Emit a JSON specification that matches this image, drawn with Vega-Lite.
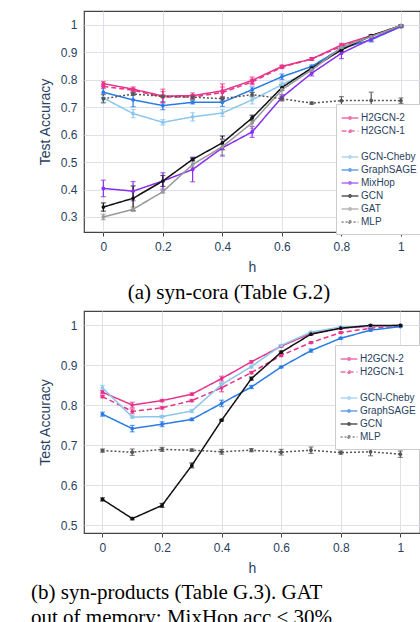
{
  "$schema": "https://vega.github.io/schema/vega-lite/v6.json",
  "padding": {"left": 30, "top": 10, "right": 0, "bottom": 0},
  "background": "white",
  "config": {
    "font": "Liberation Sans",
    "view": {"stroke": "#444444", "strokeWidth": 1.2},
    "axis": {
      "labelFont": "Liberation Sans", "labelFontSize": 12, "labelColor": "#2a3f5f",
      "titleFont": "Liberation Sans", "titleFontSize": 14, "titleFontWeight": "normal", "titleColor": "#2a3f5f",
      "gridColor": "#dde2ea", "domain": false, "tickColor": "#444444"
    },
    "axisX": {"tickSize": 4, "labelPadding": 5, "titlePadding": 8},
    "axisY": {"ticks": false, "labelPadding": 7, "titlePadding": 8},
    "legend": {
      "title": null, "orient": "none", "fillColor": "white", "strokeColor": "#cccccc", "padding": 7,
      "labelFont": "Liberation Sans", "labelFontSize": 10, "labelColor": "#2a3f5f",
      "symbolType": "M-1.4,0H1.4M-0.2,0A0.2,0.2,0,1,0,0.2,0A0.2,0.2,0,1,0,-0.2,0", "symbolSize": 144, "symbolStrokeWidth": 1.5,
      "rowPadding": 1, "labelOffset": 4
    },
    "title": {"font": "Liberation Serif", "fontSize": 21, "fontWeight": "normal", "color": "#000000", "orient": "bottom", "lineHeight": 25},
    "concat": {"spacing": 6}
  },
  "datasets": {
    "cora": [
      {"h": 0, "m": "H2GCN-2", "acc": 0.786, "err": 0.008}, {"h": 0.1, "m": "H2GCN-2", "acc": 0.766, "err": 0.008},
      {"h": 0.2, "m": "H2GCN-2", "acc": 0.741, "err": 0.025}, {"h": 0.3, "m": "H2GCN-2", "acc": 0.742, "err": 0.01},
      {"h": 0.4, "m": "H2GCN-2", "acc": 0.76, "err": 0.025}, {"h": 0.5, "m": "H2GCN-2", "acc": 0.798, "err": 0.012},
      {"h": 0.6, "m": "H2GCN-2", "acc": 0.849, "err": 0.005}, {"h": 0.7, "m": "H2GCN-2", "acc": 0.876, "err": 0.005},
      {"h": 0.8, "m": "H2GCN-2", "acc": 0.927, "err": 0.006}, {"h": 0.9, "m": "H2GCN-2", "acc": 0.961, "err": 0.004},
      {"h": 1, "m": "H2GCN-2", "acc": 0.995, "err": 0.003},
      {"h": 0, "m": "H2GCN-1", "acc": 0.776, "err": 0.008}, {"h": 0.1, "m": "H2GCN-1", "acc": 0.762, "err": 0.007},
      {"h": 0.2, "m": "H2GCN-1", "acc": 0.737, "err": 0.02}, {"h": 0.3, "m": "H2GCN-1", "acc": 0.737, "err": 0.008},
      {"h": 0.4, "m": "H2GCN-1", "acc": 0.754, "err": 0.02}, {"h": 0.5, "m": "H2GCN-1", "acc": 0.792, "err": 0.01},
      {"h": 0.6, "m": "H2GCN-1", "acc": 0.846, "err": 0.005}, {"h": 0.7, "m": "H2GCN-1", "acc": 0.876, "err": 0.005},
      {"h": 0.8, "m": "H2GCN-1", "acc": 0.922, "err": 0.006}, {"h": 0.9, "m": "H2GCN-1", "acc": 0.96, "err": 0.004},
      {"h": 1, "m": "H2GCN-1", "acc": 0.996, "err": 0.003},
      {"h": 0, "m": "GCN-Cheby", "acc": 0.734, "err": 0.015}, {"h": 0.1, "m": "GCN-Cheby", "acc": 0.677, "err": 0.015},
      {"h": 0.2, "m": "GCN-Cheby", "acc": 0.645, "err": 0.01}, {"h": 0.3, "m": "GCN-Cheby", "acc": 0.665, "err": 0.015},
      {"h": 0.4, "m": "GCN-Cheby", "acc": 0.679, "err": 0.012}, {"h": 0.5, "m": "GCN-Cheby", "acc": 0.727, "err": 0.015},
      {"h": 0.6, "m": "GCN-Cheby", "acc": 0.782, "err": 0.01}, {"h": 0.7, "m": "GCN-Cheby", "acc": 0.836, "err": 0.008},
      {"h": 0.8, "m": "GCN-Cheby", "acc": 0.915, "err": 0.005}, {"h": 0.9, "m": "GCN-Cheby", "acc": 0.958, "err": 0.004},
      {"h": 1, "m": "GCN-Cheby", "acc": 0.998, "err": 0.003},
      {"h": 0, "m": "GraphSAGE", "acc": 0.755, "err": 0.02}, {"h": 0.1, "m": "GraphSAGE", "acc": 0.727, "err": 0.025},
      {"h": 0.2, "m": "GraphSAGE", "acc": 0.706, "err": 0.015}, {"h": 0.3, "m": "GraphSAGE", "acc": 0.718, "err": 0.006},
      {"h": 0.4, "m": "GraphSAGE", "acc": 0.718, "err": 0.015}, {"h": 0.5, "m": "GraphSAGE", "acc": 0.764, "err": 0.01},
      {"h": 0.6, "m": "GraphSAGE", "acc": 0.811, "err": 0.01}, {"h": 0.7, "m": "GraphSAGE", "acc": 0.849, "err": 0.005},
      {"h": 0.8, "m": "GraphSAGE", "acc": 0.915, "err": 0.005}, {"h": 0.9, "m": "GraphSAGE", "acc": 0.946, "err": 0.008},
      {"h": 1, "m": "GraphSAGE", "acc": 0.994, "err": 0.003},
      {"h": 0, "m": "MixHop", "acc": 0.404, "err": 0.03}, {"h": 0.1, "m": "MixHop", "acc": 0.394, "err": 0.035},
      {"h": 0.2, "m": "MixHop", "acc": 0.431, "err": 0.03}, {"h": 0.3, "m": "MixHop", "acc": 0.473, "err": 0.045},
      {"h": 0.4, "m": "MixHop", "acc": 0.552, "err": 0.03}, {"h": 0.5, "m": "MixHop", "acc": 0.61, "err": 0.02},
      {"h": 0.6, "m": "MixHop", "acc": 0.736, "err": 0.01}, {"h": 0.7, "m": "MixHop", "acc": 0.824, "err": 0.01},
      {"h": 0.8, "m": "MixHop", "acc": 0.897, "err": 0.02}, {"h": 0.9, "m": "MixHop", "acc": 0.949, "err": 0.008},
      {"h": 1, "m": "MixHop", "acc": 0.995, "err": 0.004},
      {"h": 0, "m": "GCN", "acc": 0.336, "err": 0.015}, {"h": 0.1, "m": "GCN", "acc": 0.368, "err": 0.045},
      {"h": 0.2, "m": "GCN", "acc": 0.431, "err": 0.02}, {"h": 0.3, "m": "GCN", "acc": 0.51, "err": 0.005},
      {"h": 0.4, "m": "GCN", "acc": 0.57, "err": 0.025}, {"h": 0.5, "m": "GCN", "acc": 0.661, "err": 0.01},
      {"h": 0.6, "m": "GCN", "acc": 0.772, "err": 0.01}, {"h": 0.7, "m": "GCN", "acc": 0.843, "err": 0.005},
      {"h": 0.8, "m": "GCN", "acc": 0.909, "err": 0.005}, {"h": 0.9, "m": "GCN", "acc": 0.961, "err": 0.003},
      {"h": 1, "m": "GCN", "acc": 0.998, "err": 0.002},
      {"h": 0, "m": "GAT", "acc": 0.3, "err": 0.01}, {"h": 0.1, "m": "GAT", "acc": 0.328, "err": 0.008},
      {"h": 0.2, "m": "GAT", "acc": 0.392, "err": 0.005}, {"h": 0.3, "m": "GAT", "acc": 0.491, "err": 0.01},
      {"h": 0.4, "m": "GAT", "acc": 0.556, "err": 0.03}, {"h": 0.5, "m": "GAT", "acc": 0.643, "err": 0.02},
      {"h": 0.6, "m": "GAT", "acc": 0.764, "err": 0.02}, {"h": 0.7, "m": "GAT", "acc": 0.836, "err": 0.005},
      {"h": 0.8, "m": "GAT", "acc": 0.918, "err": 0.005}, {"h": 0.9, "m": "GAT", "acc": 0.958, "err": 0.003},
      {"h": 1, "m": "GAT", "acc": 0.998, "err": 0.002},
      {"h": 0, "m": "MLP", "acc": 0.731, "err": 0.015}, {"h": 0.1, "m": "MLP", "acc": 0.748, "err": 0.005},
      {"h": 0.2, "m": "MLP", "acc": 0.74, "err": 0.005}, {"h": 0.3, "m": "MLP", "acc": 0.737, "err": 0.007},
      {"h": 0.4, "m": "MLP", "acc": 0.731, "err": 0.008}, {"h": 0.5, "m": "MLP", "acc": 0.746, "err": 0.008},
      {"h": 0.6, "m": "MLP", "acc": 0.731, "err": 0.008}, {"h": 0.7, "m": "MLP", "acc": 0.715, "err": 0.004},
      {"h": 0.8, "m": "MLP", "acc": 0.724, "err": 0.015}, {"h": 0.9, "m": "MLP", "acc": 0.725, "err": 0.03},
      {"h": 1, "m": "MLP", "acc": 0.724, "err": 0.01}
    ],
    "products": [
      {"h": 0, "m": "H2GCN-2", "acc": 0.833, "err": 0.004}, {"h": 0.1, "m": "H2GCN-2", "acc": 0.801, "err": 0.007},
      {"h": 0.2, "m": "H2GCN-2", "acc": 0.812, "err": 0.003}, {"h": 0.3, "m": "H2GCN-2", "acc": 0.828, "err": 0.003},
      {"h": 0.4, "m": "H2GCN-2", "acc": 0.867, "err": 0.006}, {"h": 0.5, "m": "H2GCN-2", "acc": 0.909, "err": 0.003},
      {"h": 0.6, "m": "H2GCN-2", "acc": 0.948, "err": 0.002}, {"h": 0.7, "m": "H2GCN-2", "acc": 0.98, "err": 0.002},
      {"h": 0.8, "m": "H2GCN-2", "acc": 0.993, "err": 0.001}, {"h": 0.9, "m": "H2GCN-2", "acc": 0.998, "err": 0.001},
      {"h": 1, "m": "H2GCN-2", "acc": 1.0, "err": 0.001},
      {"h": 0, "m": "H2GCN-1", "acc": 0.822, "err": 0.003}, {"h": 0.1, "m": "H2GCN-1", "acc": 0.785, "err": 0.006},
      {"h": 0.2, "m": "H2GCN-1", "acc": 0.794, "err": 0.003}, {"h": 0.3, "m": "H2GCN-1", "acc": 0.812, "err": 0.003},
      {"h": 0.4, "m": "H2GCN-1", "acc": 0.844, "err": 0.01}, {"h": 0.5, "m": "H2GCN-1", "acc": 0.882, "err": 0.003},
      {"h": 0.6, "m": "H2GCN-1", "acc": 0.925, "err": 0.003}, {"h": 0.7, "m": "H2GCN-1", "acc": 0.957, "err": 0.002},
      {"h": 0.8, "m": "H2GCN-1", "acc": 0.982, "err": 0.002}, {"h": 0.9, "m": "H2GCN-1", "acc": 0.993, "err": 0.001},
      {"h": 1, "m": "H2GCN-1", "acc": 0.998, "err": 0.001},
      {"h": 0, "m": "GCN-Cheby", "acc": 0.844, "err": 0.006}, {"h": 0.1, "m": "GCN-Cheby", "acc": 0.771, "err": 0.003},
      {"h": 0.2, "m": "GCN-Cheby", "acc": 0.772, "err": 0.003}, {"h": 0.3, "m": "GCN-Cheby", "acc": 0.786, "err": 0.004},
      {"h": 0.4, "m": "GCN-Cheby", "acc": 0.852, "err": 0.005}, {"h": 0.5, "m": "GCN-Cheby", "acc": 0.897, "err": 0.004},
      {"h": 0.6, "m": "GCN-Cheby", "acc": 0.95, "err": 0.002}, {"h": 0.7, "m": "GCN-Cheby", "acc": 0.983, "err": 0.002},
      {"h": 0.8, "m": "GCN-Cheby", "acc": 0.996, "err": 0.001}, {"h": 0.9, "m": "GCN-Cheby", "acc": 0.998, "err": 0.001},
      {"h": 1, "m": "GCN-Cheby", "acc": 1.0, "err": 0.001},
      {"h": 0, "m": "GraphSAGE", "acc": 0.778, "err": 0.005}, {"h": 0.1, "m": "GraphSAGE", "acc": 0.742, "err": 0.008},
      {"h": 0.2, "m": "GraphSAGE", "acc": 0.753, "err": 0.006}, {"h": 0.3, "m": "GraphSAGE", "acc": 0.765, "err": 0.003},
      {"h": 0.4, "m": "GraphSAGE", "acc": 0.805, "err": 0.008}, {"h": 0.5, "m": "GraphSAGE", "acc": 0.846, "err": 0.004},
      {"h": 0.6, "m": "GraphSAGE", "acc": 0.896, "err": 0.002}, {"h": 0.7, "m": "GraphSAGE", "acc": 0.937, "err": 0.004},
      {"h": 0.8, "m": "GraphSAGE", "acc": 0.968, "err": 0.002}, {"h": 0.9, "m": "GraphSAGE", "acc": 0.988, "err": 0.002},
      {"h": 1, "m": "GraphSAGE", "acc": 0.997, "err": 0.001},
      {"h": 0, "m": "GCN", "acc": 0.565, "err": 0.004}, {"h": 0.1, "m": "GCN", "acc": 0.517, "err": 0.003},
      {"h": 0.2, "m": "GCN", "acc": 0.55, "err": 0.005}, {"h": 0.3, "m": "GCN", "acc": 0.65, "err": 0.006},
      {"h": 0.4, "m": "GCN", "acc": 0.763, "err": 0.002}, {"h": 0.5, "m": "GCN", "acc": 0.867, "err": 0.004},
      {"h": 0.6, "m": "GCN", "acc": 0.933, "err": 0.003}, {"h": 0.7, "m": "GCN", "acc": 0.978, "err": 0.002},
      {"h": 0.8, "m": "GCN", "acc": 0.993, "err": 0.001}, {"h": 0.9, "m": "GCN", "acc": 1.0, "err": 0.001},
      {"h": 1, "m": "GCN", "acc": 1.0, "err": 0.001},
      {"h": 0, "m": "MLP", "acc": 0.687, "err": 0.004}, {"h": 0.1, "m": "MLP", "acc": 0.683, "err": 0.008},
      {"h": 0.2, "m": "MLP", "acc": 0.69, "err": 0.005}, {"h": 0.3, "m": "MLP", "acc": 0.688, "err": 0.003},
      {"h": 0.4, "m": "MLP", "acc": 0.684, "err": 0.006}, {"h": 0.5, "m": "MLP", "acc": 0.688, "err": 0.004},
      {"h": 0.6, "m": "MLP", "acc": 0.683, "err": 0.007}, {"h": 0.7, "m": "MLP", "acc": 0.688, "err": 0.008},
      {"h": 0.8, "m": "MLP", "acc": 0.682, "err": 0.004}, {"h": 0.9, "m": "MLP", "acc": 0.684, "err": 0.01},
      {"h": 1, "m": "MLP", "acc": 0.678, "err": 0.008}
    ]
  },
  "resolve": {
    "scale": {"x": "independent", "y": "independent", "color": "independent", "strokeDash": "independent"},
    "legend": {"color": "independent", "strokeDash": "independent"}
  },
  "vconcat": [
    {
      "width": 336,
      "height": 221,
      "data": {"name": "cora"},
      "title": {"text": "(a) syn-cora (Table G.2)", "orient": "bottom", "dx": -23, "offset": 8},
      "encoding": {
        "x": {"field": "h", "type": "quantitative", "scale": {"domain": [-0.065, 1.064], "nice": false},
              "axis": {"values": [0, 0.2, 0.4, 0.6, 0.8, 1], "format": "~g", "title": "h"}},
        "y": {"field": "acc", "type": "quantitative", "scale": {"domain": [0.245, 1.051], "nice": false, "zero": false},
              "axis": {"values": [0.3, 0.4, 0.5, 0.6, 0.7, 0.8, 0.9, 1], "format": "~g", "title": "Test Accuracy"}},
        "color": {"field": "m", "type": "nominal",
                  "scale": {"domain": ["H2GCN-2", "H2GCN-1", " ", "GCN-Cheby", "GraphSAGE", "MixHop", "GCN", "GAT", "MLP"],
                            "range": ["#e7338a", "#e7338a", "rgba(0,0,0,0)", "#8cc6ec", "#2a7be4", "#8a2ef0", "#111111", "#999999", "#555555"]},
                  "legend": {"legendX": 252, "legendY": 93}}
      },
      "layer": [
        {"mark": {"type": "errorbar", "ticks": {"size": 5}, "thickness": 1.2}, "encoding": {"yError": {"field": "err"}}},
        {"mark": {"type": "line", "strokeWidth": 1.5, "point": {"filled": true, "size": 14}},
         "encoding": {"strokeDash": {"field": "m", "type": "nominal",
           "scale": {"domain": ["H2GCN-2", "H2GCN-1", " ", "GCN-Cheby", "GraphSAGE", "MixHop", "GCN", "GAT", "MLP"],
                     "range": [[1, 0], [5, 3], [1, 0], [1, 0], [1, 0], [1, 0], [1, 0], [1, 0], [2, 2]]},
           "legend": {"legendX": 252, "legendY": 93}}}}
      ]
    },
    {
      "width": 336,
      "height": 222,
      "data": {"name": "products"},
      "title": {"text": ["(b) syn-products (Table G.3).  GAT", "out of memory; MixHop acc < 30%"], "orient": "bottom", "anchor": "start", "frame": "group", "dx": -53, "offset": 7, "align": "left"},
      "encoding": {
        "x": {"field": "h", "type": "quantitative", "scale": {"domain": [-0.062, 1.066], "nice": false},
              "axis": {"values": [0, 0.2, 0.4, 0.6, 0.8, 1], "format": "~g", "title": "h"}},
        "y": {"field": "acc", "type": "quantitative", "scale": {"domain": [0.481, 1.036], "nice": false, "zero": false},
              "axis": {"values": [0.5, 0.6, 0.7, 0.8, 0.9, 1], "format": "~g", "title": "Test Accuracy"}},
        "color": {"field": "m", "type": "nominal",
                  "scale": {"domain": ["H2GCN-2", "H2GCN-1", " ", "GCN-Cheby", "GraphSAGE", "GCN", "MLP"],
                            "range": ["#e7338a", "#e7338a", "rgba(0,0,0,0)", "#8cc6ec", "#2a7be4", "#111111", "#555555"]},
                  "legend": {"legendX": 251, "legendY": 34}}
      },
      "layer": [
        {"mark": {"type": "errorbar", "ticks": {"size": 5}, "thickness": 1.2}, "encoding": {"yError": {"field": "err"}}},
        {"mark": {"type": "line", "strokeWidth": 1.5, "point": {"filled": true, "size": 14}},
         "encoding": {"strokeDash": {"field": "m", "type": "nominal",
           "scale": {"domain": ["H2GCN-2", "H2GCN-1", " ", "GCN-Cheby", "GraphSAGE", "GCN", "MLP"],
                     "range": [[1, 0], [5, 3], [1, 0], [1, 0], [1, 0], [1, 0], [2, 2]]},
           "legend": {"legendX": 251, "legendY": 34}}}}
      ]
    }
  ]
}
